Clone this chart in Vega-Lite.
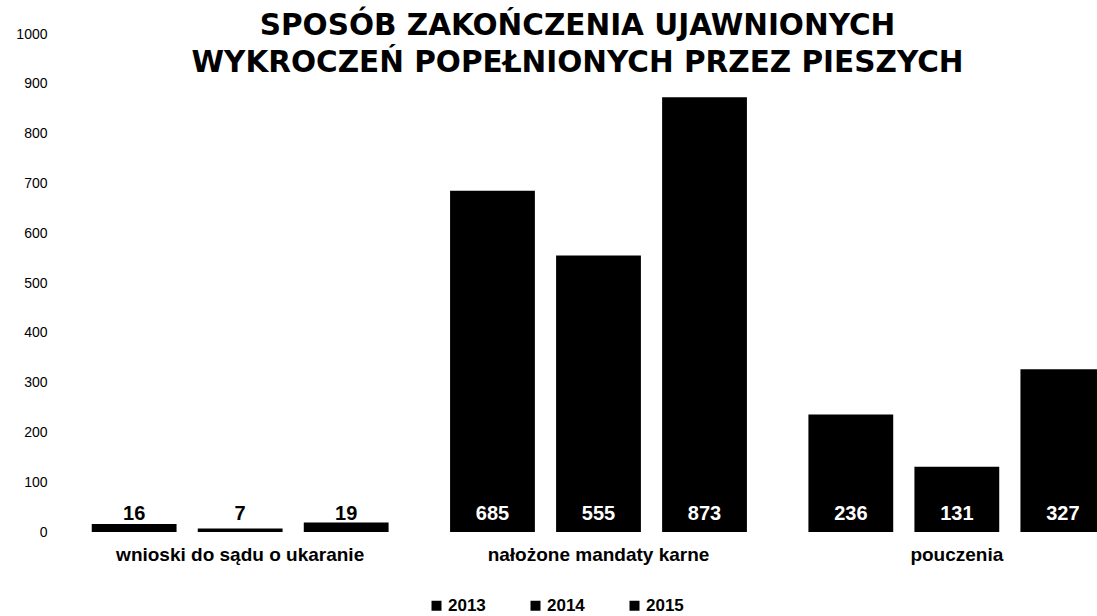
{
  "$schema": "https://vega.github.io/schema/vega-lite/v6.json",
  "autosize": "none",
  "width": 1075,
  "height": 498,
  "padding": {"left": 61, "top": 34, "right": 0, "bottom": 84},
  "background": "white",
  "config": {"view": {"stroke": null}},
  "title": {
    "text": ["SPOSÓB ZAKOŃCZENIA UJAWNIONYCH", "WYKROCZEŃ POPEŁNIONYCH PRZEZ PIESZYCH"],
    "font": "DejaVu Sans",
    "fontSize": 29.5,
    "fontWeight": "bold",
    "color": "black",
    "anchor": "middle",
    "frame": "group",
    "offset": -51,
    "dx": -21,
    "lineHeight": 37
  },
  "data": {
    "values": [
      {"cat": "wnioski do sądu o ukaranie", "year": "2013", "value": 16},
      {"cat": "wnioski do sądu o ukaranie", "year": "2014", "value": 7},
      {"cat": "wnioski do sądu o ukaranie", "year": "2015", "value": 19},
      {"cat": "nałożone mandaty karne", "year": "2013", "value": 685},
      {"cat": "nałożone mandaty karne", "year": "2014", "value": 555},
      {"cat": "nałożone mandaty karne", "year": "2015", "value": 873},
      {"cat": "pouczenia", "year": "2013", "value": 236},
      {"cat": "pouczenia", "year": "2014", "value": 131},
      {"cat": "pouczenia", "year": "2015", "value": 327}
    ]
  },
  "encoding": {
    "x": {
      "field": "cat", "type": "nominal", "sort": null,
      "scale": {"paddingInner": 0, "paddingOuter": 0},
      "axis": {
        "title": null, "labelAngle": 0, "domain": false, "ticks": false, "grid": false,
        "labelLimit": 0,
        "labelFont": "Liberation Sans", "labelFontSize": 19, "labelFontWeight": "bold",
        "labelColor": "black", "labelPadding": 13
      }
    },
    "xOffset": {
      "field": "year", "type": "nominal",
      "scale": {"paddingInner": 0.2, "paddingOuter": 0.29}
    }
  },
  "layer": [
    {
      "mark": {"type": "bar", "color": "black"},
      "encoding": {
        "y": {
          "field": "value", "type": "quantitative",
          "scale": {"domain": [0, 1000], "nice": false},
          "axis": {
            "title": null, "domain": false, "ticks": false, "grid": false, "format": "d",
            "values": [0, 100, 200, 300, 400, 500, 600, 700, 800, 900, 1000],
            "labelFont": "Liberation Sans", "labelFontSize": 14, "labelColor": "black",
            "labelPadding": 14
          }
        },
        "fill": {
          "field": "year", "type": "nominal",
          "scale": {"range": ["black", "black", "black"]},
          "legend": {
            "title": null, "orient": "none", "direction": "horizontal",
            "legendX": 367, "legendY": 563,
            "symbolType": "square", "symbolSize": 100, "symbolFillColor": "black",
            "symbolStrokeWidth": 0, "labelOffset": 3,
            "labelFont": "Liberation Sans", "labelFontSize": 17, "labelFontWeight": "bold",
            "labelColor": "black", "columnPadding": 41
          }
        }
      }
    },
    {
      "mark": {
        "type": "text", "font": "Liberation Sans", "fontSize": 20, "fontWeight": "bold",
        "baseline": "alphabetic", "dy": -12
      },
      "encoding": {
        "y": {"datum": 0, "type": "quantitative"},
        "text": {"field": "value", "type": "quantitative"},
        "color": {
          "condition": {"test": "datum.value > 50", "value": "white"},
          "value": "black"
        }
      }
    }
  ]
}
